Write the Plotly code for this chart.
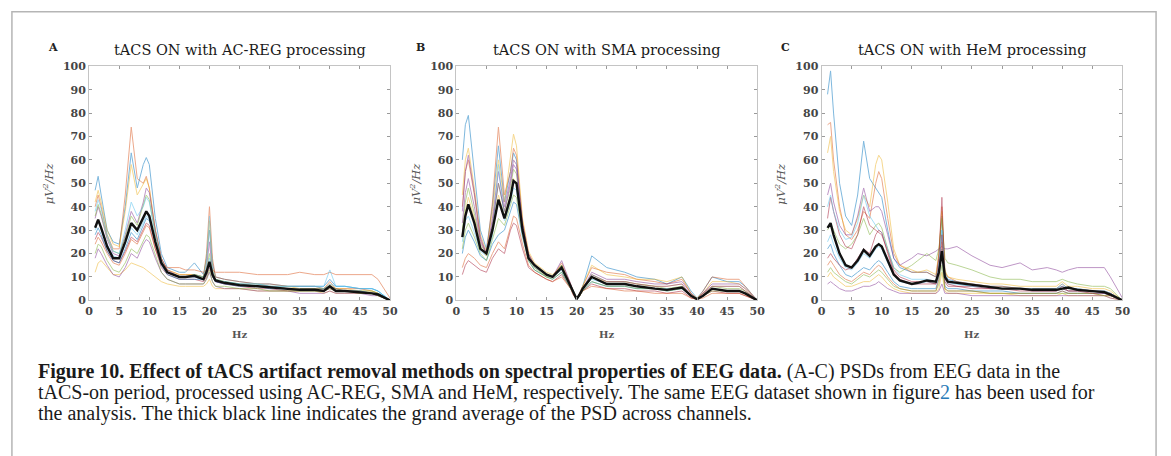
import plotly.graph_objects as go

W, H = 1171, 456


def px(x):
    return x / W


def py(y):
    return 1 - y / H


freqs = [1, 1.5, 2, 3, 4, 5, 6, 7, 8, 9, 9.5, 10, 11, 12, 13, 15, 16, 17.5, 19, 19.5,
         20, 20.5, 21, 22.5, 25, 28, 30, 33, 35, 37.5, 39, 40, 41, 42.5, 45, 47, 48, 50]

mean_A = [31, 34.5, 31, 23, 18, 18, 25, 33, 30, 35, 38, 36, 25, 16, 12, 10, 10, 10.5, 9, 12,
          16.5, 11, 8.5, 7.5, 6.5, 6, 5.5, 5, 4.5, 4.5, 4, 6, 4, 4, 3.5, 3, 2.5, 0]
chan_A = [
    [47, 53, 45, 30, 25, 24, 40, 63, 48, 58, 61, 58, 35, 20, 14, 12, 12, 16, 11, 18, 30, 16, 10, 9, 8, 7, 7, 6, 6, 6, 6, 9, 6, 6, 5, 5, 4, 0],
    [40, 45, 40, 28, 22, 22, 45, 74, 52, 50, 53, 48, 30, 18, 13, 11, 11, 11, 10, 20, 40, 18, 10, 9, 8, 7, 7, 6, 6, 6, 5, 8, 5, 5, 5, 4, 3, 0],
    [42, 47, 42, 30, 24, 23, 38, 58, 45, 50, 52, 48, 30, 18, 13, 11, 11, 11, 10, 17, 34, 14, 9, 8, 7, 7, 6, 6, 5, 5, 5, 7, 5, 5, 4, 4, 3, 0],
    [35, 40, 36, 26, 20, 19, 28, 38, 33, 42, 48, 46, 30, 18, 13, 10, 10, 10, 9, 14, 25, 12, 8, 7, 7, 6, 6, 5, 5, 5, 5, 6, 5, 4, 4, 3, 3, 0],
    [36, 41, 37, 27, 21, 20, 27, 36, 32, 40, 45, 43, 28, 17, 12, 10, 10, 11, 10, 13, 20, 12, 9, 8, 7, 6, 6, 5, 5, 5, 5, 6, 5, 4, 4, 4, 3, 0],
    [30, 34, 31, 24, 19, 18, 24, 31, 28, 33, 36, 35, 25, 16, 12, 10, 10, 10, 9, 12, 18, 11, 8, 8, 7, 7, 6, 6, 6, 6, 5, 7, 6, 6, 5, 5, 4, 0],
    [26, 29, 27, 21, 17, 16, 21, 27, 25, 30, 33, 32, 22, 14, 11, 9, 9, 9, 8, 10, 14, 10, 8, 7, 6, 5, 5, 4, 4, 4, 4, 5, 4, 4, 3, 3, 2, 0],
    [28, 31, 28, 21, 17, 16, 22, 29, 26, 32, 35, 34, 24, 15, 11, 9, 9, 9, 9, 11, 16, 10, 8, 7, 6, 6, 5, 5, 4, 4, 4, 6, 4, 4, 4, 3, 3, 0],
    [24, 27, 25, 20, 16, 15, 20, 26, 24, 29, 32, 31, 22, 16, 14, 14, 13, 13, 12, 13, 15, 13, 12, 12, 12, 11, 11, 11, 12, 11, 11, 12, 11, 11, 11, 11, 9, 1],
    [12, 16, 17, 14, 11, 11, 13, 16, 15, 14, 13, 12, 10, 8, 7, 6, 6, 6, 6, 7, 9, 6, 5, 5, 5, 4, 4, 4, 4, 4, 3, 4, 3, 3, 3, 3, 2, 0],
    [18, 22, 20, 15, 11, 10, 14, 20, 18, 24, 26, 25, 18, 12, 9, 7, 7, 7, 7, 9, 12, 8, 6, 5, 5, 4, 4, 4, 3, 3, 3, 4, 3, 3, 3, 2, 2, 0],
    [20, 24, 23, 17, 13, 12, 16, 22, 20, 25, 28, 27, 19, 12, 9, 7, 7, 7, 7, 9, 13, 8, 6, 6, 5, 5, 4, 4, 4, 4, 4, 5, 4, 4, 3, 3, 2, 0],
    [38, 43, 39, 28, 21, 20, 30, 42, 36, 40, 44, 42, 28, 17, 12, 10, 10, 11, 10, 16, 36, 13, 9, 8, 7, 7, 6, 6, 6, 6, 6, 13, 6, 6, 5, 5, 4, 0],
]

mean_B = [27, 36, 41, 33, 22, 20, 30, 43, 35, 44, 51, 50, 30, 18, 15, 11, 10, 14, 6, 3,
          0.5, 2.5, 5, 10, 7, 7, 6, 5, 4.5, 5.5, 2, 0.5, 2, 5, 4, 4, 3, 0]
chan_B = [
    [60, 75, 79, 55, 30, 22, 40, 66, 42, 55, 63, 60, 32, 18, 14, 11, 10, 15, 7, 4, 1, 3, 6, 19, 14, 12, 10, 9, 7, 10, 4, 1, 4, 10, 8, 8, 6, 0],
    [40, 55, 60, 45, 26, 20, 42, 74, 45, 55, 65, 62, 34, 20, 15, 11, 10, 16, 7, 3, 0.5, 3, 6, 14, 12, 11, 9, 8, 7, 9, 3, 0.5, 4, 10, 9, 9, 6, 0],
    [45, 60, 65, 48, 28, 21, 38, 60, 42, 60, 71, 66, 35, 21, 16, 12, 11, 15, 7, 4, 1, 3, 6, 15, 11, 10, 9, 9, 8, 10, 3, 1, 3, 8, 8, 7, 5, 0],
    [38, 55, 62, 46, 27, 20, 35, 55, 40, 52, 60, 58, 33, 20, 15, 11, 10, 14, 6, 3, 0.5, 3, 5, 12, 9, 9, 8, 7, 7, 8, 3, 0.5, 3, 7, 7, 7, 5, 0],
    [30, 42, 48, 37, 24, 20, 32, 50, 38, 48, 56, 54, 31, 19, 15, 11, 10, 15, 6, 3, 0.5, 2, 5, 11, 8, 8, 7, 6, 5, 6, 2, 0.5, 2, 6, 5, 5, 4, 0],
    [25, 34, 36, 29, 21, 19, 27, 58, 34, 42, 48, 47, 29, 18, 14, 10, 10, 13, 6, 3, 0.5, 2, 5, 9, 7, 7, 6, 5, 5, 5, 2, 0.5, 2, 5, 4, 4, 3, 0],
    [11, 15, 17, 15, 13, 12, 18, 22, 20, 30, 33, 32, 22, 14, 12, 9, 8, 11, 5, 2, 0.5, 2, 4, 7, 5, 5, 4, 4, 3, 4, 1, 0.5, 2, 4, 3, 3, 2, 0],
    [20, 27, 30, 25, 19, 17, 24, 28, 30, 38, 42, 41, 27, 17, 13, 10, 9, 12, 5, 3, 0.5, 2, 4, 8, 6, 6, 5, 5, 4, 5, 2, 0.5, 2, 5, 4, 4, 3, 0],
    [14, 18, 20, 18, 15, 14, 20, 25, 22, 32, 36, 35, 24, 15, 12, 9, 8, 10, 5, 2, 0.5, 2, 4, 6, 5, 4, 4, 3, 3, 3, 1, 0.5, 1, 3, 3, 3, 2, 0],
    [28, 38, 44, 35, 23, 19, 30, 45, 36, 45, 52, 50, 30, 18, 14, 10, 10, 14, 6, 3, 0.5, 2, 5, 10, 8, 8, 7, 6, 6, 7, 2, 0.5, 3, 6, 6, 6, 4, 0],
    [33, 46, 52, 40, 25, 20, 33, 50, 38, 50, 58, 56, 32, 19, 15, 11, 10, 17, 7, 3, 0.5, 3, 5, 11, 8, 8, 7, 6, 6, 7, 2, 0.5, 3, 6, 6, 6, 4, 0],
    [22, 30, 33, 27, 20, 17, 26, 35, 32, 40, 45, 44, 28, 17, 13, 10, 9, 12, 5, 3, 0.5, 2, 4, 8, 6, 6, 5, 5, 4, 5, 2, 0.5, 2, 4, 4, 4, 3, 0],
]

mean_C = [31, 33, 28, 20, 15, 14, 17, 21.5, 19, 23, 24, 23, 17, 11, 8.5, 7, 7.5, 8.5, 8, 12,
          21, 10, 8, 7.5, 6.5, 5.5, 5, 5, 4.5, 4.5, 4.5, 5, 5.5, 4.5, 4, 3.5, 2.5, 0]
chan_C = [
    [88, 98, 80, 50, 36, 32, 45, 68, 52, 48, 46, 44, 30, 18, 14, 12, 12, 12, 10, 18, 36, 12, 9, 8, 7, 6, 6, 5, 5, 5, 5, 6, 5, 5, 4, 4, 3, 0],
    [75, 76, 60, 40, 28, 26, 30, 38, 35, 50, 55, 52, 35, 20, 15, 12, 12, 12, 10, 20, 40, 12, 10, 8, 7, 6, 6, 5, 5, 5, 5, 7, 5, 5, 4, 4, 3, 0],
    [63, 70, 55, 38, 30, 28, 35, 45, 40, 58, 62, 60, 42, 22, 15, 13, 12, 13, 11, 20, 38, 13, 10, 9, 8, 7, 7, 6, 6, 6, 6, 8, 6, 6, 5, 5, 4, 0],
    [45, 50, 42, 32, 28, 28, 36, 48, 38, 40, 40, 38, 28, 18, 15, 18, 20, 19, 21, 22, 23, 22, 22, 23, 19, 15, 14, 16, 13, 14, 13, 12, 13, 14, 14, 14, 10, 1],
    [30, 33, 30, 24, 22, 24, 28, 35, 28, 32, 33, 31, 22, 14, 12, 15, 17, 20, 17, 22, 35, 18, 16, 15, 13, 10, 9, 9, 8, 8, 8, 9, 8, 7, 6, 6, 5, 0],
    [25, 28, 24, 18, 14, 13, 16, 20, 18, 22, 23, 22, 16, 11, 8, 7, 7, 8, 7, 14, 30, 9, 7, 7, 6, 5, 5, 5, 4, 4, 4, 5, 4, 4, 4, 3, 3, 0],
    [35, 44, 38, 28, 23, 22, 28, 40, 32, 30, 29, 28, 21, 13, 10, 8, 8, 8, 7, 18, 44, 10, 7, 6, 6, 5, 5, 5, 4, 4, 4, 6, 4, 4, 4, 3, 3, 0],
    [22, 24, 20, 15, 11, 10, 12, 14, 13, 16, 17, 16, 12, 8, 6, 5, 5, 5, 5, 10, 22, 6, 5, 5, 4, 4, 4, 3, 3, 3, 3, 4, 3, 3, 3, 3, 2, 0],
    [15, 17, 15, 11, 9, 8, 10, 12, 11, 14, 15, 14, 10, 7, 5, 4, 4, 4, 4, 9, 25, 5, 4, 4, 4, 3, 3, 3, 3, 3, 3, 4, 3, 3, 3, 2, 2, 0],
    [10, 12, 10, 8, 6, 6, 7, 8, 8, 10, 11, 10, 7, 5, 4, 3, 3, 3, 3, 5, 12, 4, 3, 3, 3, 3, 3, 2, 2, 2, 2, 3, 2, 2, 2, 2, 1, 0],
    [7, 8, 7, 5, 4, 4, 5, 6, 6, 7, 8, 7, 5, 4, 3, 3, 3, 3, 3, 4, 7, 3, 3, 3, 2, 2, 2, 2, 2, 2, 2, 2, 2, 2, 2, 2, 1, 0],
    [12, 14, 12, 10, 8, 7, 9, 11, 10, 12, 13, 12, 9, 6, 5, 4, 4, 4, 4, 7, 15, 5, 4, 4, 4, 3, 3, 3, 3, 3, 3, 3, 3, 3, 3, 2, 2, 0],
    [40, 45, 38, 30, 26, 27, 33, 45, 36, 32, 30, 29, 22, 14, 11, 9, 9, 9, 8, 14, 30, 10, 8, 7, 6, 6, 5, 5, 5, 5, 5, 7, 5, 5, 4, 4, 3, 0],
    [18, 20, 18, 15, 13, 14, 18, 22, 20, 28, 30, 29, 20, 12, 9, 7, 7, 7, 7, 12, 28, 8, 6, 6, 5, 5, 5, 4, 4, 4, 4, 5, 4, 4, 3, 3, 2, 0],
]

titles = ["tACS ON with AC-REG processing", "tACS ON with SMA processing", "tACS ON with HeM processing"]
letters = ["A", "B", "C"]
x_ticks = [0, 5, 10, 15, 20, 25, 30, 35, 40, 45, 50]
y_ticks = [0, 10, 20, 30, 40, 50, 60, 70, 80, 90, 100]

palette = ["#0072BD", "#D95319", "#EDB120", "#7E2F8E", "#77AC30", "#4DBEEE", "#A2142F"]

px_x = [(86, 390), (457, 761), (826, 1130)]
px_y = (62, 303)

fig = go.Figure()
panels = [(chan_A, mean_A), (chan_B, mean_B), (chan_C, mean_C)]
tick_font = dict(family="DejaVu Serif", size=11, color="#454545", weight="bold")
for i, (chans, mean) in enumerate(panels):
    xa = "x" if i == 0 else f"x{i+1}"
    ya = "y" if i == 0 else f"y{i+1}"
    for k, ch in enumerate(chans):
        fig.add_trace(go.Scatter(x=freqs, y=ch, mode="lines", xaxis=xa, yaxis=ya,
                                 line=dict(color=palette[k % len(palette)], width=1),
                                 opacity=0.5, showlegend=False, hoverinfo="skip"))
    fig.add_trace(go.Scatter(x=freqs, y=mean, mode="lines", xaxis=xa, yaxis=ya,
                             line=dict(color="#111111", width=2.4),
                             showlegend=False, hoverinfo="skip"))
    l, r = px_x[i]
    axis_common = dict(showline=True, linecolor="#c4c4c4", linewidth=1, mirror="ticks",
                       ticks="inside", ticklen=3, tickcolor="#9a9a9a", showgrid=False,
                       zeroline=False, tickfont=tick_font)
    fig.layout[("xaxis" if i == 0 else f"xaxis{i+1}")] = dict(
        domain=[px(l), px(r)], range=[0, 50], tickvals=x_ticks, anchor=ya, **axis_common)
    fig.layout[("yaxis" if i == 0 else f"yaxis{i+1}")] = dict(
        domain=[py(px_y[1]), py(px_y[0])], range=[0, 100], tickvals=y_ticks,
        anchor=xa, **axis_common)
    cx = px((l + r) / 2)
    fig.add_annotation(x=cx, y=py(45), xref="paper", yref="paper", text=titles[i],
                       xanchor="center", yanchor="middle", showarrow=False,
                       font=dict(family="DejaVu Serif", size=14.5, color="#1a1a1a"))
    fig.add_annotation(x=px(l - 36), y=py(43), xref="paper", yref="paper", text=letters[i],
                       xanchor="center", yanchor="middle", showarrow=False,
                       font=dict(family="DejaVu Serif", size=11, color="#222222", weight="bold"))
    fig.add_annotation(x=px(l - 41), y=py(183), xref="paper", yref="paper",
                       text="<i>μV<sup>2</sup>/Hz</i>", textangle=-90, showarrow=False,
                       xanchor="center", yanchor="middle",
                       font=dict(family="DejaVu Serif", size=11.5, color="#555555"))
    fig.add_annotation(x=cx, y=py(338), xref="paper", yref="paper", text="<b>Hz</b>",
                       xanchor="center", yanchor="middle", showarrow=False,
                       font=dict(family="DejaVu Serif", size=10, color="#555555"))

cap_font = dict(family="Liberation Serif", size=20, color="#1a1a1a")
caption = [
    "<b>Figure 10. Effect of tACS artifact removal methods on spectral properties of EEG data.</b> (A-C) PSDs from EEG data in the",
    "tACS-on period, processed using AC-REG, SMA and HeM, respectively. The same EEG dataset shown in figure<span style='color:#2a7ab8'>2</span> has been used for",
    "the analysis. The thick black line indicates the grand average of the PSD across channels.",
]
for j, line in enumerate(caption):
    fig.add_annotation(x=px(32), y=py(376 + 21.5 * j), xref="paper", yref="paper",
                       xanchor="left", yanchor="middle", text=line, showarrow=False, font=cap_font)

fig.add_shape(type="rect", xref="paper", yref="paper", x0=px(8), x1=px(1164),
              y0=-0.05, y1=py(6),
              line=dict(color="#b5b5b5", width=1.5), fillcolor="rgba(0,0,0,0)")

fig.update_layout(width=W, height=H, margin=dict(l=0, r=0, t=0, b=0),
                  paper_bgcolor="white", plot_bgcolor="white")
fig.write_html("out.html")
